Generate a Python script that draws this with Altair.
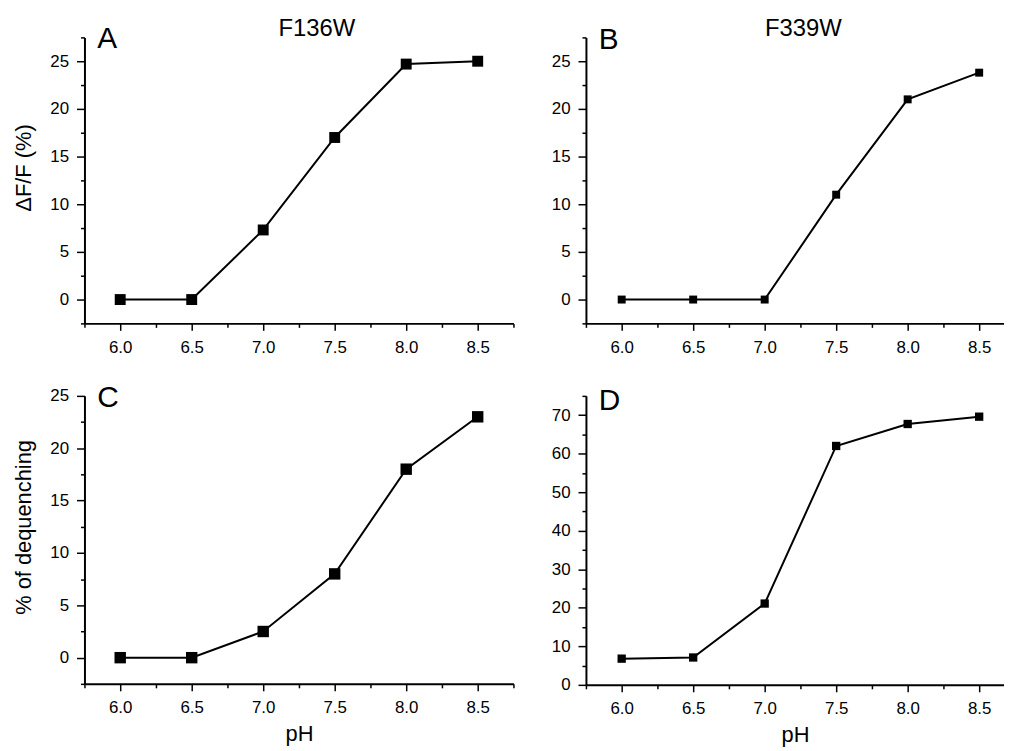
import altair as alt
import pandas as pd

FONT = "Liberation Sans"

ph = [6.0, 6.5, 7.0, 7.5, 8.0, 8.5]
a_vals = [0.0, 0.0, 7.3, 17.0, 24.7, 25.0]
b_vals = [0.0, 0.0, 0.0, 11.0, 21.0, 23.8]
c_vals = [0.0, 0.0, 2.5, 8.0, 18.0, 23.0]
d_vals = [6.8, 7.1, 21.1, 62.0, 67.7, 69.6]

x_major = [6.0, 6.5, 7.0, 7.5, 8.0, 8.5]
x_minor = [5.75, 6.25, 6.75, 7.25, 7.75, 8.25, 8.75]
ab_major = [0, 5, 10, 15, 20, 25]
ab_minor = [-2.5, 2.5, 7.5, 12.5, 17.5, 22.5, 27.5]
c_major = [0, 5, 10, 15, 20, 25]
c_minor = [-2.5, 2.5, 7.5, 12.5, 17.5, 22.5]
d_major = [0, 10, 20, 30, 40, 50, 60, 70]
d_minor = [5, 15, 25, 35, 45, 55, 65, 75]

titles = ["F136W", "F339W"]
letters = ["A", "B", "C", "D"]
y_titles = ["ΔF/F (%)", "% of dequenching"]
x_title = "pH"

AX = dict(
    domainColor="black", domainWidth=2, tickColor="black", tickWidth=1.5,
    labelFont=FONT, labelFontSize=17, labelColor="black",
    titleFont=FONT, titleFontSize=22, titleFontWeight="normal", titleColor="black",
    grid=False, labelFlush=False, labelOverlap=False,
)


def inside(vals, dom):
    return [v for v in vals if dom[0] - 1e-9 <= v <= dom[1] + 1e-9]


def panel(vals, letter, width, height, xdom, ydom, ymajor, yminor,
          xtitle=None, ytitle=None, title=None, title_x=0, size=120,
          letter_y=12, ytitle_y=None):
    df = pd.DataFrame({"pH": ph, "v": vals})
    xscale = alt.Scale(domain=xdom, nice=False, zero=False)
    yscale = alt.Scale(domain=ydom, nice=False, zero=False)
    xaxis = alt.Axis(values=inside(x_major, xdom), format=".1f", orient="bottom",
                     tickSize=7, labelPadding=9, titlePadding=8, **AX)
    yargs = dict(values=ymajor, format="d", orient="left", tickSize=8,
                 labelPadding=8, titlePadding=14, **AX)
    if ytitle_y is not None:
        yargs["titleY"] = ytitle_y
    yaxis = alt.Axis(**yargs)
    x = alt.X("pH:Q", scale=xscale, axis=xaxis, title=xtitle)
    y = alt.Y("v:Q", scale=yscale, axis=yaxis, title=ytitle)
    base = alt.Chart(df)
    line = base.mark_line(color="black", strokeWidth=2).encode(x=x, y=y)
    pts = base.mark_square(color="black", size=size, opacity=1).encode(x=x, y=y)
    minor = base.mark_point(opacity=0).encode(
        x=alt.X("pH:Q", scale=xscale, title=None,
                axis=alt.Axis(values=inside(x_minor, xdom), orient="bottom",
                              labels=False, domain=False, tickSize=4,
                              tickColor="black", tickWidth=1.5, grid=False)),
        y=alt.Y("v:Q", scale=yscale, title=None,
                axis=alt.Axis(values=yminor, orient="left", labels=False,
                              domain=False, tickSize=4, tickColor="black",
                              tickWidth=1.5, grid=False)),
    )
    lt = alt.Chart(pd.DataFrame({"t": [letter]})).mark_text(
        font=FONT, fontSize=30, align="left", baseline="alphabetic", color="black"
    ).encode(x=alt.value(13), y=alt.value(letter_y), text="t:N")
    main = alt.layer(line, pts, lt)
    if title:
        tt = alt.Chart(pd.DataFrame({"t": [title]})).mark_text(
            font=FONT, fontSize=24, align="center", baseline="alphabetic", color="black"
        ).encode(x=alt.value(title_x), y=alt.value(-1), text="t:N")
        main = alt.layer(line, pts, lt, tt)
    return alt.layer(main, minor).resolve_axis(x="independent", y="independent").properties(
        width=width, height=height)


W1 = 432
W2 = 421
xdom1 = [5.75, 8.75]
xdom2 = [5.75, 5.75 + W2 / 144.0]

pa = panel(a_vals, letters[0], W1, 288, xdom1, [-2.5, 27.5], ab_major, ab_minor,
           ytitle=y_titles[0], title=titles[0], title_x=234, size=121,
           letter_y=11, ytitle_y=131)
pb = panel(b_vals, letters[1], W2, 288, xdom2, [-2.5, 27.5], ab_major, ab_minor,
           title=titles[1], title_x=219, size=64, letter_y=12)
pc = panel(c_vals, letters[2], W1, 290, xdom1, [-2.5, 25], c_major, c_minor,
           xtitle=x_title, ytitle=y_titles[1], size=132, letter_y=11,
           ytitle_y=132)
pd_ = panel(d_vals, letters[3], W2, 291, xdom2, [0, 75], d_major, d_minor,
            xtitle=x_title, size=70, letter_y=14)

chart = alt.concat(
    pa, pb, pc, pd_, columns=2,
    spacing={"row": 73, "column": 73}, bounds="flush", align="each",
).properties(
    padding={"left": 5, "top": 7, "right": 0, "bottom": 0}
).configure_view(stroke=None).configure_axis(
    labelFont=FONT, labelFontSize=17, labelColor="black",
    titleFont=FONT, titleFontSize=22, titleColor="black", grid=False,
)

chart.save("out.html", embed_options={"renderer": "svg", "actions": False})
